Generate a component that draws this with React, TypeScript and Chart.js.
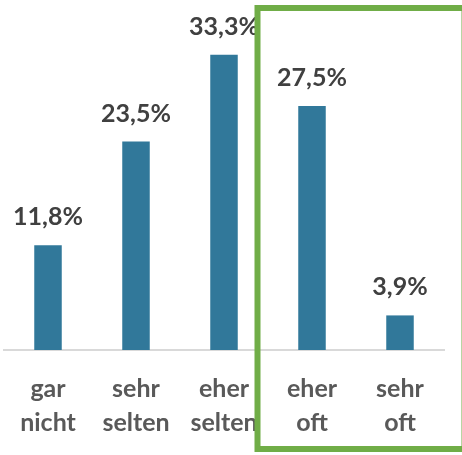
import React, { useEffect, useRef } from "react";
import { Chart, registerables } from "chart.js";

Chart.register(...registerables);

const categories: string[][] = [
  ["gar", "nicht"],
  ["sehr", "selten"],
  ["eher", "selten"],
  ["eher", "oft"],
  ["sehr", "oft"],
];
const values: number[] = [11.8, 23.5, 33.3, 27.5, 3.9];
const highlightFrom = 3; // index of first highlighted category

const FONT = "Lato, 'Open Sans', sans-serif";

const valueLabels = {
  id: "valueLabels",
  afterDatasetsDraw(chart: any) {
    const ctx = chart.ctx;
    const meta = chart.getDatasetMeta(0);
    ctx.save();
    ctx.font = `bold 25px ${FONT}`;
    ctx.fillStyle = "#404040";
    ctx.textAlign = "center";
    ctx.textBaseline = "alphabetic";
    meta.data.forEach((bar: any, i: number) => {
      const txt = values[i].toFixed(1).replace(".", ",") + "%";
      ctx.fillText(txt, bar.x, bar.y - 20);
    });
    ctx.restore();
  },
};

const highlightBox = {
  id: "highlightBox",
  afterDraw(chart: any) {
    const ctx = chart.ctx;
    const x = chart.scales.x;
    const left = (x.getPixelForValue(highlightFrom - 1) + x.getPixelForValue(highlightFrom)) / 2 - 10.5;
    const right = chart.width + 2.5;
    const top = 8;
    const bottom = chart.height - 6;
    ctx.save();
    ctx.strokeStyle = "#70AD47";
    ctx.lineWidth = 6;
    ctx.strokeRect(left, top, right - left, bottom - top);
    ctx.restore();
  },
};

export default function App() {
  const ref = useRef<HTMLCanvasElement | null>(null);
  useEffect(() => {
    if (!ref.current) return;
    const chart = new Chart(ref.current, {
      type: "bar",
      data: {
        labels: categories,
        datasets: [
          {
            data: values,
            backgroundColor: "#31789A",
            borderWidth: 0,
            categoryPercentage: 1,
            barPercentage: 0.3125,
          },
        ],
      },
      options: {
        animation: false,
        responsive: false,
        maintainAspectRatio: false,
        layout: { padding: { left: 4, right: 18, top: 13, bottom: 0 } },
        plugins: { legend: { display: false }, tooltip: { enabled: false } },
        scales: {
          x: {
            grid: { display: false, drawTicks: false },
            border: { display: true, color: "#D9D9D9", width: 2 },
            ticks: {
              color: "#595959",
              font: { family: FONT, size: 25, weight: "bold", lineHeight: 34 / 25 },
              padding: 22,
              maxRotation: 0,
              autoSkip: false,
            },
            afterFit(scale: any) {
              scale.height = 105;
              scale.paddingLeft = 0;
              scale.paddingRight = 0;
            },
          },
          y: {
            display: false,
            min: 0,
            max: 38,
          },
        },
      },
      plugins: [valueLabels, highlightBox],
    });
    return () => chart.destroy();
  }, []);
  return (
    <div style={{ position: "fixed", left: 0, top: 0, width: 462, height: 455, background: "#fff" }}>
      <canvas ref={ref} width={462} height={455} style={{ display: "block", width: 462, height: 455 }} />
    </div>
  );
}
